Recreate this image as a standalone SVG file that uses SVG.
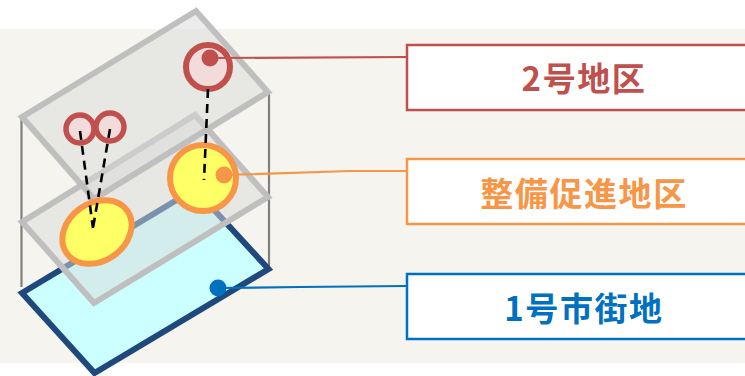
<svg xmlns="http://www.w3.org/2000/svg" width="745" height="376" viewBox="0 0 745 376">
<style>
.box{fill:#fff;stroke-width:2.5}
.lab{font-family:"Noto Sans CJK JP","Liberation Sans",sans-serif;font-size:33px;font-weight:700;text-anchor:middle;letter-spacing:1.6px}
.plane{fill:#d9d9d9;fill-opacity:.5;stroke:#bfbfbf;stroke-width:6;stroke-linejoin:miter}
.dash{fill:none;stroke:#000;stroke-width:2.6;stroke-dasharray:9 6}
.guide{fill:none;stroke:#808080;stroke-width:2.2}
.wire{fill:none;stroke-width:2.2}
.red{stroke:#c0504d}.org{stroke:#f79646}.blu{stroke:#0070c0}
</style>
<rect width="745" height="376" fill="#fff"/>
<rect x="0" y="29" width="745" height="334" fill="#f5f4ee"/>
<g id="guides">
<path class="guide" d="M21.5 117V287M269 92V269"/>
</g>
<g id="plane-city">
<path d="M22 293L195 189L268.500 269L94.500 373Z" fill="#ccffff" stroke="#1f497d" stroke-width="6"/>
</g>
<g id="plane-promotion">
<path class="plane" d="M22 222L195 115L268 197L94 303Z"/>
</g>
<g id="plane-district2">
<path class="plane" d="M22 117L196 11L268 92L94 199Z"/>
</g>
<g id="promotion-areas">
<ellipse cx="97" cy="232" rx="37" ry="29" transform="rotate(-35 97 232)" fill="#ffff66" stroke="#f79646" stroke-width="6"/>
<ellipse cx="203" cy="178" rx="33" ry="33" fill="#ffff66" stroke="#f79646" stroke-width="6"/>
</g>
<g id="district2-areas">
<circle cx="208" cy="67" r="22" fill="#f2dcdb" stroke="#c0504d" stroke-width="6"/>
<circle cx="80" cy="129" r="14" fill="#f2dcdb" stroke="#c0504d" stroke-width="5.5"/>
<circle cx="110" cy="127" r="14" fill="#f2dcdb" stroke="#c0504d" stroke-width="5.5"/>
</g>
<g id="connectors">
<path class="dash" d="M208 89L204 180"/>
<path class="dash" d="M80 131L93 228"/>
<path class="dash" d="M110 129L93 228"/>
<path class="wire red" d="M210 58L407 57"/>
<path class="wire org" d="M224 175L350 171H407"/>
<path class="wire blu" d="M218 288L300 287L406 286"/>
<circle cx="210" cy="58" r="8.500" fill="#c0504d"/>
<circle cx="224" cy="175" r="8.500" fill="#f79646"/>
<circle cx="218" cy="288" r="8.500" fill="#0070c0"/>
</g>
<g id="node-district2">
<rect class="box red" x="407" y="45" width="345" height="65"/>
<text class="lab" x="584" y="91" fill="#c0504d">2号地区</text>
</g>
<g id="node-promotion">
<rect class="box org" x="407" y="159" width="345" height="65"/>
<text class="lab" x="584" y="206" fill="#f79646">整備促進地区</text>
</g>
<g id="node-city">
<rect class="box blu" x="407" y="274" width="345" height="65"/>
<text class="lab" x="584" y="321" fill="#0070c0">1号市街地</text>
</g>
</svg>
